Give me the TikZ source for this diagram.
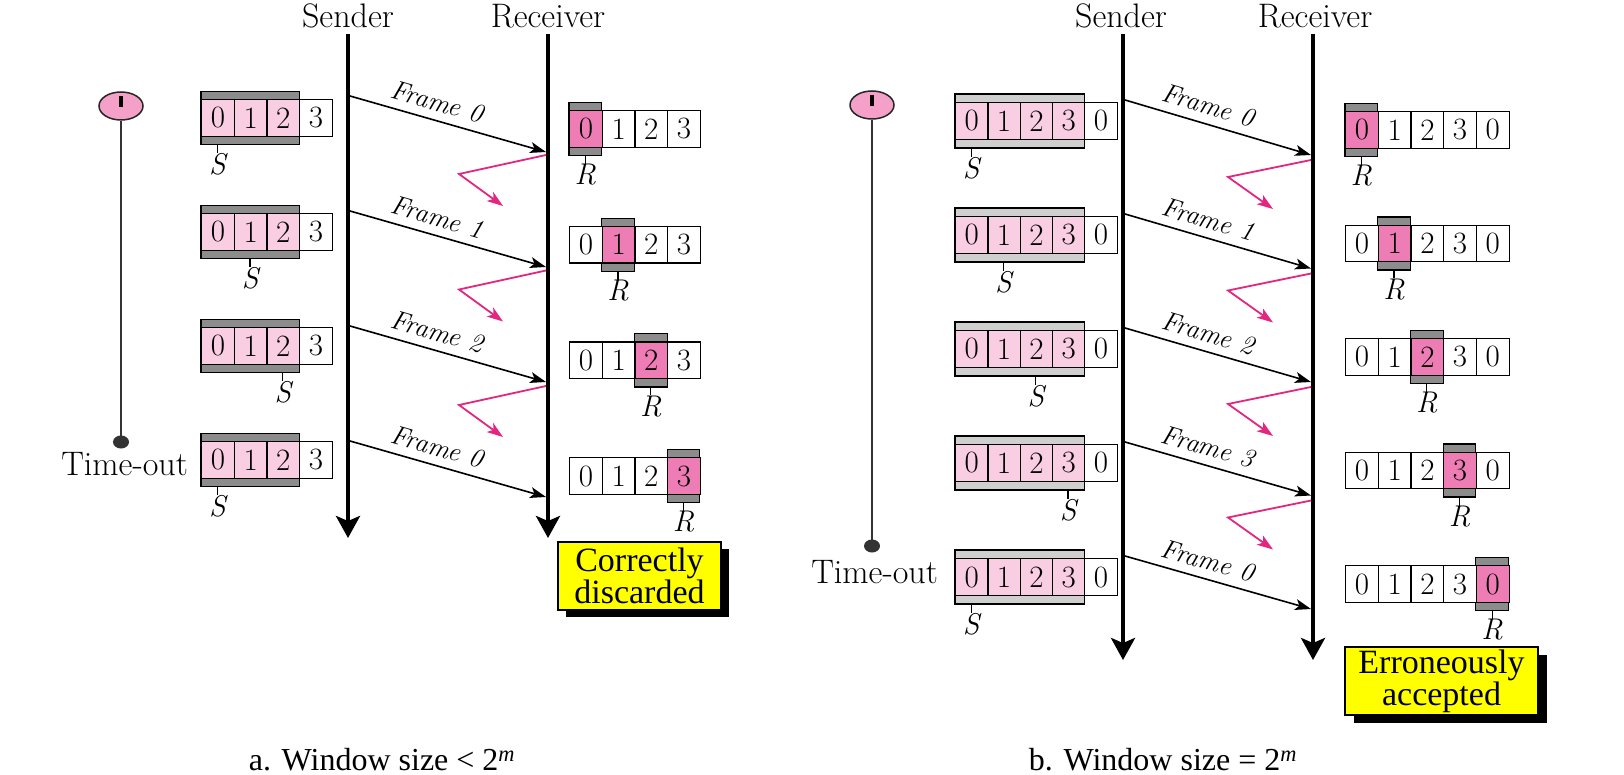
\documentclass[tikz,border=0pt]{standalone}
\usepackage{fontspec}
\newfontfamily\capfont{Liberation Serif}
\usetikzlibrary{arrows.meta,shapes.geometric}
\definecolor{lpink}{HTML}{F9CDE2}
\definecolor{hpink}{HTML}{EF7DB5}
\definecolor{cpink}{HTML}{F4A0C8}
\definecolor{ackpink}{HTML}{E3267F}
\definecolor{dgray}{HTML}{8C8C8C}
\definecolor{lgray}{HTML}{CFCFCF}
\definecolor{boxyellow}{HTML}{FFFF00}
\tikzset{
  axisline/.style={line width=4pt,-{Stealth[length=22pt,width=24pt,inset=5pt]}},
  framearrow/.style={line width=1.6pt,-{Stealth[length=16pt,width=11pt,inset=4pt]}},
  ackarrow/.style={draw=ackpink,line width=1.8pt,-{Stealth[length=16pt,width=11pt,inset=4pt,fill=ackpink]}},
  framelabel/.style={font=\fontsize{27}{27}\selectfont\itshape,sloped,above=8pt,pos=0.42,inner sep=0pt},
  cellbox/.style={draw=black,line width=1.2pt,minimum width=32.7pt,minimum height=36.6pt,inner sep=0pt,font=\fontsize{31}{31}\selectfont,anchor=west},
  winbar/.style={draw=black,line width=1.2pt},
  ptrlabel/.style={font=\fontsize{30}{30}\selectfont\itshape,anchor=north,inner sep=0pt},
  toplabel/.style={font=\fontsize{34}{34}\selectfont},
  clockface/.style={ellipse,draw=black!85,fill=cpink,line width=1.5pt,minimum width=44pt,minimum height=28pt,inner sep=0pt},
  clockdot/.style={ellipse,fill=black!80,minimum width=16pt,minimum height=13pt,inner sep=0pt},
  timeline/.style={draw=black!80,line width=2.5pt},
  ybox/.style={draw=black,line width=1.5pt,fill=boxyellow,align=center,inner sep=0pt,font=\capfont\fontsize{34}{30}\selectfont},
  caption/.style={font=\capfont\fontsize{32}{32}\selectfont},
  tolabel/.style={font=\fontsize{34}{34}\selectfont,anchor=east,inner sep=0pt}
}
\begin{document}
\begin{tikzpicture}[x=1pt,y=-1pt]
\useasboundingbox (0,0) rectangle (1624,775);
\fill[white] (0,0) rectangle (1624,775);

% ================= Part a =================
\node[toplabel] (snda) at (348,16) {Sender};
\node[toplabel] (rcva) at (548,16) {Receiver};
\coordinate (snda-top) at (348,34);
\coordinate (snda-bot) at (348,538);
\coordinate (rcva-top) at (548,34);
\coordinate (rcva-bot) at (548,538);
\draw[axisline] (snda-top) -- (snda-bot);
\draw[axisline] (rcva-top) -- (rcva-bot);

% clock
\node[clockface] (clka) at (121,106) {};
\draw[line width=3.2pt] (121,96.5) -- (121,107.5);
\node[clockdot] (dota) at (121,442) {};
\draw[timeline] (clka.south) -- (dota.center);
\node[tolabel] (toa) at (188,464) {Time-out};

% sender windows
\foreach \k/\s in {0/0,1/1,2/2,3/0} {
  \pgfmathsetmacro\yc{118+114*\k}
  \draw[winbar,fill=dgray] (201,{\yc-26.5}) rectangle ({201+3*32.7},{\yc+26.5});
  \foreach \c in {0,1,2} {
    \node[cellbox,fill=lpink] (sa\k-\c) at ({201+32.7*\c},\yc) {\c};
  }
  \node[cellbox,fill=white] (sa\k-3) at ({201+32.7*3},\yc) {3};
  \node[ptrlabel] (sal\k) at ({201+32.7*\s+16.35},{\yc+35}) {S};
  \draw[line width=1.2pt] ({201+32.7*\s+16.35},{\yc+26.5}) -- (sal\k.north);
}

% receiver windows
\foreach \k in {0,1,2,3} {
  \pgfmathsetmacro\yc{129+115.7*\k}
  \pgfmathsetmacro\xh{569+32.7*\k}
  \draw[winbar,fill=dgray] (\xh,{\yc-26.5}) rectangle ({\xh+32.7},{\yc+26.5});
  \foreach \c in {0,1,2,3} {
    \ifnum\c=\k\def\cfill{hpink}\else\def\cfill{white}\fi
    \node[cellbox,fill=\cfill] (ra\k-\c) at ({569+32.7*\c},\yc) {\c};
  }
  \node[ptrlabel] (ral\k) at ({\xh+16.35},{\yc+35}) {R};
  \draw[line width=1.2pt] ({\xh+16.35},{\yc+26.5}) -- (ral\k.north);
}

% frames
\foreach \k/\f in {0/0,1/1,2/2,3/0} {
  \coordinate (fas\k) at (350,{96+115*\k});
  \coordinate (fae\k) at (546,{152+115*\k});
  \draw[framearrow] (fas\k) -- node[framelabel] {Frame \f} (fae\k);
}
% acks
\foreach \k in {0,1,2} {
  \coordinate (aas\k) at (546,{155+115.5*\k});
  \coordinate (aac\k) at (459,{174+115.5*\k});
  \coordinate (aae\k) at (503,{206+115.5*\k});
  \draw[ackarrow] (aas\k) -- (aac\k) -- (aae\k);
}

% result box a
\fill[black] (566,549) rectangle (729,617);
\node[ybox,minimum width=163pt,minimum height=68pt] (ya) at (639.5,576) {Correctly\\discarded};

\node[caption] (capa) at (382,760) {a. Window size < 2\textsuperscript{\textit{m}}};

% ================= Part b =================
\node[toplabel] (sndb) at (1121,16) {Sender};
\node[toplabel] (rcvb) at (1315,16) {Receiver};
\coordinate (sndb-top) at (1123,34);
\coordinate (sndb-bot) at (1123,660);
\coordinate (rcvb-top) at (1313,34);
\coordinate (rcvb-bot) at (1313,660);
\draw[axisline] (sndb-top) -- (sndb-bot);
\draw[axisline] (rcvb-top) -- (rcvb-bot);

\node[clockface] (clkb) at (872,105) {};
\draw[line width=3.2pt] (872,95.5) -- (872,106.5);
\node[clockdot] (dotb) at (872,546) {};
\draw[timeline] (clkb.south) -- (dotb.center);
\node[tolabel] (tob) at (938,572) {Time-out};

\foreach \k/\s in {0/0,1/1,2/2,3/3,4/0} {
  \pgfmathsetmacro\yc{121+114*\k}
  \draw[winbar,fill=lgray] (955,{\yc-27}) rectangle ({955+4*32.3},{\yc+27});
  \foreach \c in {0,1,2,3} {
    \node[cellbox,fill=lpink,minimum width=32.3pt] (sb\k-\c) at ({955+32.3*\c},\yc) {\c};
  }
  \node[cellbox,fill=white,minimum width=32.3pt] (sb\k-4) at ({955+32.3*4},\yc) {0};
  \node[ptrlabel] (sbl\k) at ({955+32.3*\s+16.15},{\yc+36}) {S};
  \draw[line width=1.2pt] ({955+32.3*\s+16.15},{\yc+27}) -- (sbl\k.north);
}

\foreach \k in {0,1,2,3,4} {
  \pgfmathsetmacro\yc{130+113.5*\k}
  \pgfmathsetmacro\xh{1345+32.7*\k}
  \draw[winbar,fill=dgray] (\xh,{\yc-26.5}) rectangle ({\xh+32.7},{\yc+26.5});
  \foreach \c/\t in {0/0,1/1,2/2,3/3,4/0} {
    \ifnum\c=\k\def\cfill{hpink}\else\def\cfill{white}\fi
    \node[cellbox,fill=\cfill] (rb\k-\c) at ({1345+32.7*\c},\yc) {\t};
  }
  \node[ptrlabel] (rbl\k) at ({\xh+16.35},{\yc+35}) {R};
  \draw[line width=1.2pt] ({\xh+16.35},{\yc+26.5}) -- (rbl\k.north);
}

\foreach \k/\f in {0/0,1/1,2/2,3/3,4/0} {
  \coordinate (fbs\k) at (1125,{100+114*\k});
  \coordinate (fbe\k) at (1311,{155+113.5*\k});
  \draw[framearrow] (fbs\k) -- node[framelabel] {Frame \f} (fbe\k);
}
\foreach \k in {0,1,2,3} {
  \coordinate (abs\k) at (1311,{160+113.5*\k});
  \coordinate (abc\k) at (1228,{177+113.5*\k});
  \coordinate (abe\k) at (1273,{209+113.5*\k});
  \draw[ackarrow] (abs\k) -- (abc\k) -- (abe\k);
}

\fill[black] (1354,655) rectangle (1547,723);
\node[ybox,minimum width=193pt,minimum height=68pt] (yb) at (1441.5,681) {Erroneously\\accepted};

\node[caption] (capb) at (1163,760) {b. Window size = 2\textsuperscript{\textit{m}}};
\end{tikzpicture}
\end{document}
